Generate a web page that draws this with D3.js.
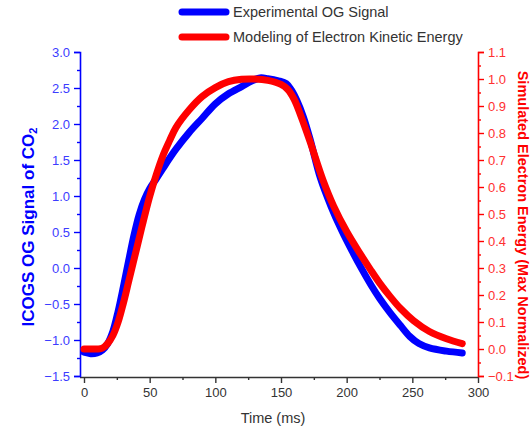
<!DOCTYPE html>
<html lang="en">
<head>
    <meta charset="UTF-8">
    <title>ICOGS OG signal</title>
    <script src="https://cdn.jsdelivr.net/npm/d3@7"></script>
    <style>
        body { margin: 0; background: #fff; }
        text { font-family: "Liberation Sans", Arial, sans-serif; }
    </style>
</head>
<body>
    <script>
        // time (ms) and measured OG signal (left axis)
        var ogTime = [0, 5, 10, 14, 18, 22, 26, 30, 34, 38, 42, 46, 50, 55, 60, 65, 70, 80, 90, 100, 110, 120, 128, 134,
                      140, 148, 154, 158, 162, 167, 172, 180, 188, 196, 204, 212, 219, 225, 233, 241, 248, 255, 263, 276, 288]
        var ogSignal = [-1.17, -1.19, -1.18, -1.14, -1.05, -0.88, -0.6, -0.26, 0.1, 0.45, 0.74, 0.95, 1.1, 1.24, 1.38, 1.52, 1.65, 1.88, 2.08, 2.28, 2.42, 2.52, 2.6, 2.64,
                        2.63, 2.6, 2.56, 2.47, 2.33, 2.1, 1.8, 1.25, 0.86, 0.53, 0.24, -0.03, -0.25, -0.42, -0.62, -0.8, -0.95, -1.05, -1.11, -1.155, -1.18]

        // time (ms) and modeled electron energy (right axis, max normalized)
        var keTime = [0, 5, 10, 14, 18, 22, 26, 30, 34, 40, 45, 50, 55, 60, 65, 70, 80, 90, 100, 110, 120, 130, 140,
                      150, 155, 160, 165, 172, 182, 190, 200, 210, 218, 225, 233, 241, 251, 263, 276, 288]
        var keEnergy = [0, 0, 0, 0.003, 0.02, 0.05, 0.1, 0.17, 0.25, 0.37, 0.47, 0.565, 0.645, 0.715, 0.77, 0.82, 0.885, 0.935, 0.968, 0.99, 0.999, 1.0, 0.995,
                        0.98, 0.962, 0.925, 0.865, 0.77, 0.625, 0.53, 0.435, 0.355, 0.295, 0.245, 0.195, 0.15, 0.105, 0.065, 0.038, 0.02]

        var xTicks = [0, 50, 100, 150, 200, 250, 300]
        var yLeftTicks = [-1.5, -1.0, -0.5, 0.0, 0.5, 1.0, 1.5, 2.0, 2.5, 3.0]
        var yRightTicks = [-0.1, 0.0, 0.1, 0.2, 0.3, 0.4, 0.5, 0.6, 0.7, 0.8, 0.9, 1.0, 1.1]

        var legendNames = ["Experimental OG Signal", "Modeling of Electron Kinetic Energy"]
        var blue = "#0000ff", red = "#ff0000"

        var svg = d3.select("body")
            .append("svg")
            .attr("width", 532)
            .attr("height", 431)

        var x = d3.scaleLinear().domain([0, 300]).range([84, 478])
        var yL = d3.scaleLinear().domain([-1.5, 3.0]).range([376, 52])
        var yR = d3.scaleLinear().domain([-0.1, 1.1]).range([376, 52])

        // axes
        var leftAxis = d3.axisLeft(yL).tickValues(yLeftTicks).tickFormat(d3.format(".1f")).tickSize(6).tickPadding(4)
        var leftMinor = d3.axisLeft(yL).tickValues(d3.range(-1.25, 3, 0.5)).tickFormat("").tickSize(3)
        var rightAxis = d3.axisRight(yR).tickValues(yRightTicks).tickFormat(d3.format(".1f")).tickSize(6).tickPadding(4)
        var rightMinor = d3.axisRight(yR).tickValues(d3.range(-0.05, 1.1, 0.1)).tickFormat("").tickSize(3)
        var bottomAxis = d3.axisBottom(x).tickValues(xTicks).tickSize(6).tickPadding(5)
        var bottomMinor = d3.axisBottom(x).tickValues(d3.range(25, 300, 50)).tickFormat("").tickSize(3)

        function styleAxis(g, col, txtCol) {
            g.select(".domain").attr("stroke", col).attr("stroke-width", 1.6)
            g.selectAll(".tick line").attr("stroke", col).attr("stroke-width", 1.4)
            g.selectAll(".tick text").attr("fill", txtCol)
                .style("font-family", "'Liberation Sans', Arial, sans-serif")
                .style("font-size", "13px")
        }

        var gb = svg.append("g").attr("transform", "translate(0,377)").call(bottomAxis)
        gb.select(".domain").attr("d", "M80,0.5H478")
        styleAxis(gb, "#333", "#333")
        var gbm = svg.append("g").attr("transform", "translate(0,377)").call(bottomMinor)
        gbm.select(".domain").remove()
        styleAxis(gbm, "#333", "#333")

        var gl = svg.append("g").attr("transform", "translate(80,0)").call(leftAxis)
        styleAxis(gl, blue, "#3c3cff")
        var glm = svg.append("g").attr("transform", "translate(80,0)").call(leftMinor)
        glm.select(".domain").remove()
        styleAxis(glm, blue, blue)

        var gr = svg.append("g").attr("transform", "translate(478,0)").call(rightAxis)
        styleAxis(gr, red, "#ff3030")
        var grm = svg.append("g").attr("transform", "translate(478,0)").call(rightMinor)
        grm.select(".domain").remove()
        styleAxis(grm, red, red)

        // curves
        var ogLine = d3.line()
            .x(function(d, i) { return x(ogTime[i]) })
            .y(function(d) { return yL(d) })
            .curve(d3.curveCatmullRom.alpha(0.5))
        var keLine = d3.line()
            .x(function(d, i) { return x(keTime[i]) })
            .y(function(d) { return yR(d) })
            .curve(d3.curveCatmullRom.alpha(0.5))

        svg.append("path")
            .attr("d", ogLine(ogSignal))
            .style("fill", "none")
            .style("stroke", blue)
            .style("stroke-width", 7)
            .style("stroke-linecap", "round")
            .style("stroke-linejoin", "round")

        svg.append("path")
            .attr("d", keLine(keEnergy))
            .style("fill", "none")
            .style("stroke", red)
            .style("stroke-width", 7)
            .style("stroke-linecap", "round")
            .style("stroke-linejoin", "round")

        // axis titles
        var lt = svg.append("text")
            .attr("transform", "translate(34,227) rotate(-90)")
            .attr("text-anchor", "middle")
            .style("font-size", "17px")
            .style("font-weight", "bold")
            .attr("fill", blue)
        lt.append("tspan").text("ICOGS OG Signal of CO")
        lt.append("tspan").attr("dy", "0.3em").style("font-size", "11px").text("2")

        svg.append("text")
            .attr("transform", "translate(518,225) rotate(90)")
            .attr("text-anchor", "middle")
            .style("font-size", "14.5px")
            .style("font-weight", "bold")
            .attr("fill", red)
            .text("Simulated Electron Energy (Max Normalized)")

        svg.append("text")
            .attr("x", 273)
            .attr("y", 423)
            .attr("text-anchor", "middle")
            .style("font-size", "14.5px")
            .attr("fill", "#333")
            .text("Time (ms)")

        // legend
        var legend = svg.selectAll(".legend")
            .data(legendNames)
            .enter().append("g")
            .attr("class", "legend")
            .attr("transform", function(d, i) { return "translate(0," + (12 + i * 25) + ")" })
        legend.append("line")
            .attr("x1", 182).attr("x2", 226)
            .attr("stroke", function(d, i) { return i == 0 ? blue : red })
            .attr("stroke-width", 7)
            .attr("stroke-linecap", "round")
        legend.append("text")
            .attr("x", 233)
            .attr("y", 5)
            .style("font-size", "14.5px")
            .attr("fill", "#333")
            .text(function(d) { return d })
    </script>
</body>
</html>
